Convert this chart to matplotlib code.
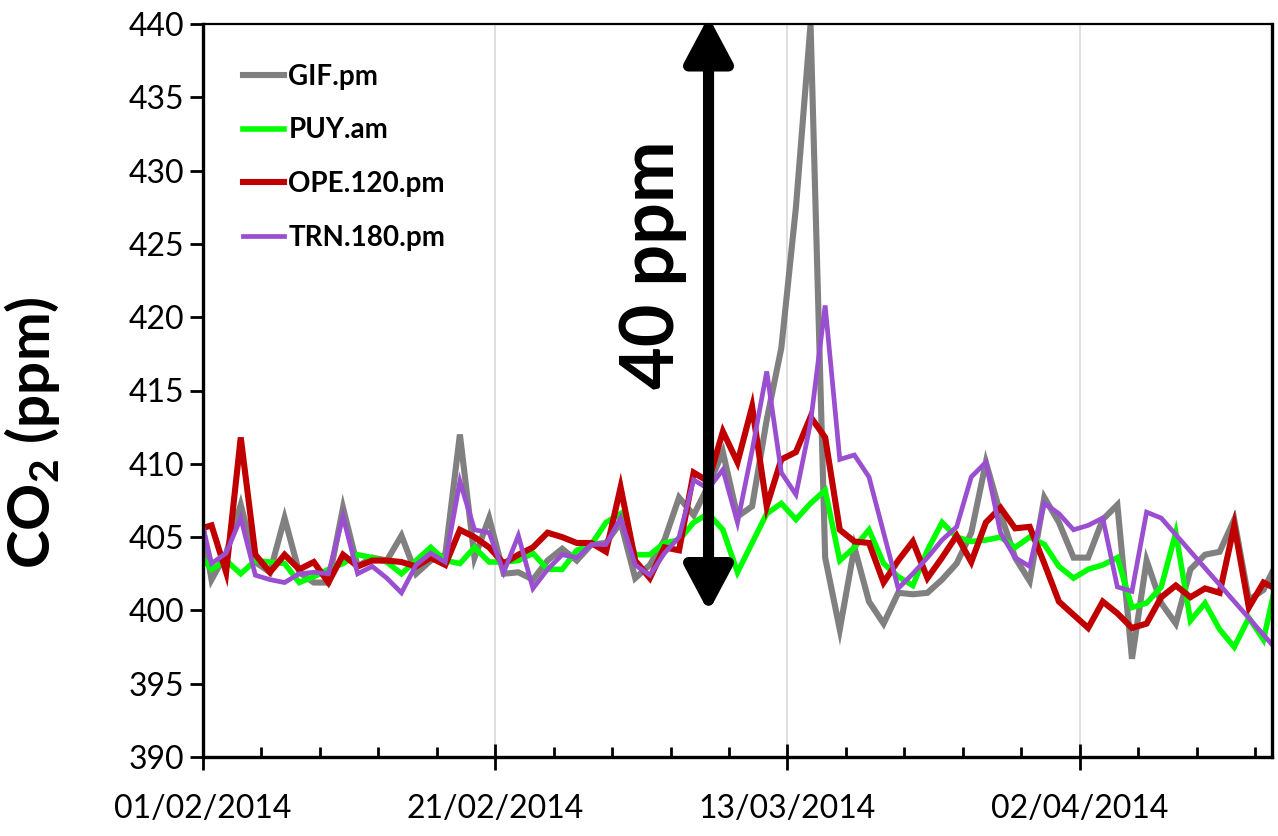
import matplotlib
matplotlib.use('Agg')
import matplotlib.pyplot as plt
import numpy as np
import pandas as pd

# one value per afternoon, first point (31/01) is clipped by the y axis
dates = pd.date_range('2014-01-31 14:00', periods=75, freq='D')

gif_pm = [408.0, 402.1, 403.9, 407.2, 403.3, 402.6, 406.3, 402.6, 401.9, 401.9,
          407.0, 403.0, 403.6, 403.4, 405.1, 402.5, 403.4, 403.8, 412.0, 403.6,
          406.3, 402.5, 402.6, 402.1, 403.4, 404.2, 403.4, 404.5, 404.6, 406.0,
          402.2, 403.1, 404.8, 407.7, 406.5, 408.5, 410.8, 406.4, 407.1, 413.0,
          417.9, 427.5, 440.0, 403.6, 398.7, 404.3, 400.6, 399.1, 401.2, 401.1,
          401.2, 402.1, 403.2, 405.3, 410.1, 406.6, 403.6, 402.0, 407.7, 406.0,
          403.6, 403.6, 406.2, 407.2, 396.7, 403.4, 400.5, 399.1, 402.8, 403.8,
          404.0, 406.2, 400.7, 401.4, 403.4]

puy_am = [404.0, 402.8, 403.4, 402.5, 403.4, 403.3, 403.2, 401.9, 402.3, 402.8,
          403.2, 403.8, 403.6, 403.3, 402.5, 403.4, 404.3, 403.4, 403.2, 404.3,
          403.3, 403.3, 403.4, 403.9, 402.8, 402.8, 404.1, 404.5, 406.0, 406.6,
          403.8, 403.8, 404.6, 404.8, 406.0, 406.6, 405.5, 402.6, 404.6, 406.6,
          407.3, 406.2, 407.3, 408.2, 403.4, 404.3, 405.5, 403.2, 402.3, 401.7,
          404.1, 406.0, 405.0, 404.7, 404.8, 405.0, 404.3, 405.0, 404.5, 403.0,
          402.2, 402.8, 403.1, 403.6, 400.2, 400.5, 401.6, 405.3, 399.3, 400.5,
          398.7, 397.5, 399.5, 398.0, 402.5]

ope_120_pm = [405.5, 405.8, 402.6, 411.8, 403.8, 402.6, 403.8, 402.8, 403.3, 401.9,
              403.8, 403.0, 403.4, 403.4, 403.3, 403.0, 403.6, 403.1, 405.5, 405.0,
              404.3, 403.2, 403.8, 404.3, 405.3, 405.0, 404.6, 404.6, 404.0, 408.4,
              403.4, 402.2, 404.3, 404.1, 409.4, 408.8, 412.2, 410.1, 413.9, 407.1,
              410.3, 410.8, 413.2, 411.8, 405.5, 404.7, 404.6, 401.9, 403.4, 404.7,
              402.2, 403.6, 405.1, 403.3, 406.0, 407.0, 405.6, 405.7, 403.2, 400.6,
              399.7, 398.8, 400.6, 399.8, 398.8, 399.1, 400.9, 401.7, 400.9, 401.5,
              401.2, 405.8, 400.2, 401.9, 401.4]

nan = np.nan
trn_180_pm = [407.5, 403.2, 403.9, 406.3, 402.4, 402.1, 401.9, 402.5, 402.6, 402.5,
              406.4, 402.5, 403.0, 402.2, 401.2, 403.1, 403.9, 403.3, 408.8, 405.5,
              405.3, 402.6, 405.1, 401.5, 402.8, 403.8, 403.6, 404.5, 404.5, 406.3,
              403.1, 402.4, 403.9, 405.0, 408.9, 408.3, 409.6, 406.0, 410.9, 416.3,
              409.4, 407.9, 412.8, 420.8, 410.3, 410.6, 409.1, 405.3, 401.5, 402.5,
              403.6, 404.8, 405.7, 409.1, 410.1, 405.3, 403.6, 403.0, 407.3, 406.6,
              405.5, 405.8, 406.3, 401.6, 401.3, 406.7, 406.3, nan, nan, nan,
              nan, nan, nan, nan, 397.2]

series = [gif_pm, puy_am, ope_120_pm, trn_180_pm]
names = ['GIF.pm', 'PUY.am', 'OPE.120.pm', 'TRN.180.pm']
colors = ['#808080', '#00ff00', '#c00000', '#9a4fd0']
widths = [4.4, 4.0, 4.4, 3.4]

major_dates = ['2014-02-01', '2014-02-21', '2014-03-13', '2014-04-02']
major_labels = ['01/02/2014', '21/02/2014', '13/03/2014', '02/04/2014']

plt.rcParams['font.family'] = ['Lato', 'DejaVu Sans']
plt.rcParams['mathtext.fontset'] = 'custom'
plt.rcParams['mathtext.rm'] = 'Lato'
plt.rcParams['mathtext.bf'] = 'Lato:bold'
plt.rcParams['mathtext.default'] = 'bf'

fig = plt.figure(figsize=(12.78, 8.36), dpi=100)
ax = fig.add_axes([203 / 1278, 1 - 757 / 836, 1069 / 1278, 733 / 836])

for vals, name, col, lw in zip(series, names, colors, widths):
    vals = np.array(vals)
    ok = ~np.isnan(vals)
    ax.plot(dates[ok], vals[ok], color=col, lw=lw, label=name,
            solid_joinstyle='miter')

ax.set_xlim(pd.Timestamp('2014-02-01'), pd.Timestamp('2014-04-15 04:00'))
ax.set_ylim(390, 440)
ax.set_yticks(np.arange(390, 441, 5))

ax.set_xticks(pd.to_datetime(major_dates))
ax.set_xticklabels(major_labels)
ax.set_xticks(pd.date_range('2014-02-05', '2014-04-14', freq='4D'), minor=True)
ax.xaxis.grid(True, which='major', color='#d9d9d9', lw=1.2)
ax.set_axisbelow(True)

ax.tick_params(axis='x', which='major', direction='inout', length=19, width=2,
               labelsize=23, pad=17)
ax.tick_params(axis='x', which='minor', direction='in', length=7.5, width=2)
ax.tick_params(axis='y', direction='out', length=9.5, width=2, labelsize=23, pad=4)

for side in ['left', 'bottom', 'right']:
    ax.spines[side].set_linewidth(2.4)
ax.spines['top'].set_linewidth(1.6)
for sp in ax.spines.values():
    sp.set_color('black')

ax.set_ylabel(r'CO$_2$ (ppm)', fontsize=42, fontweight='bold')
ax.yaxis.set_label_coords(-0.132, 0.443)

# the 40 ppm arrow
xa = pd.Timestamp('2014-02-01') + pd.Timedelta(days=34.6)
ax.annotate('', xy=(xa, 440.5), xytext=(xa, 399.9),
            arrowprops=dict(arrowstyle='<|-|>,head_length=1.35,head_width=0.72',
                            lw=8, color='black', mutation_scale=20,
                            shrinkA=0, shrinkB=0),
            annotation_clip=False, zorder=10)
xt = pd.Timestamp('2014-02-01') + pd.Timedelta(days=30.75)
ax.text(xt, 423.6, '40 ppm', rotation=90, fontsize=53, fontweight='bold',
        ha='center', va='center')

ax.legend(loc='upper left', bbox_to_anchor=(0.037, 0.946), frameon=False,
          prop={'weight': 'bold', 'size': 20}, handlelength=1.5,
          handletextpad=0.15, labelspacing=1.0, borderpad=0, borderaxespad=0)

fig.savefig('out.png', dpi=100)
